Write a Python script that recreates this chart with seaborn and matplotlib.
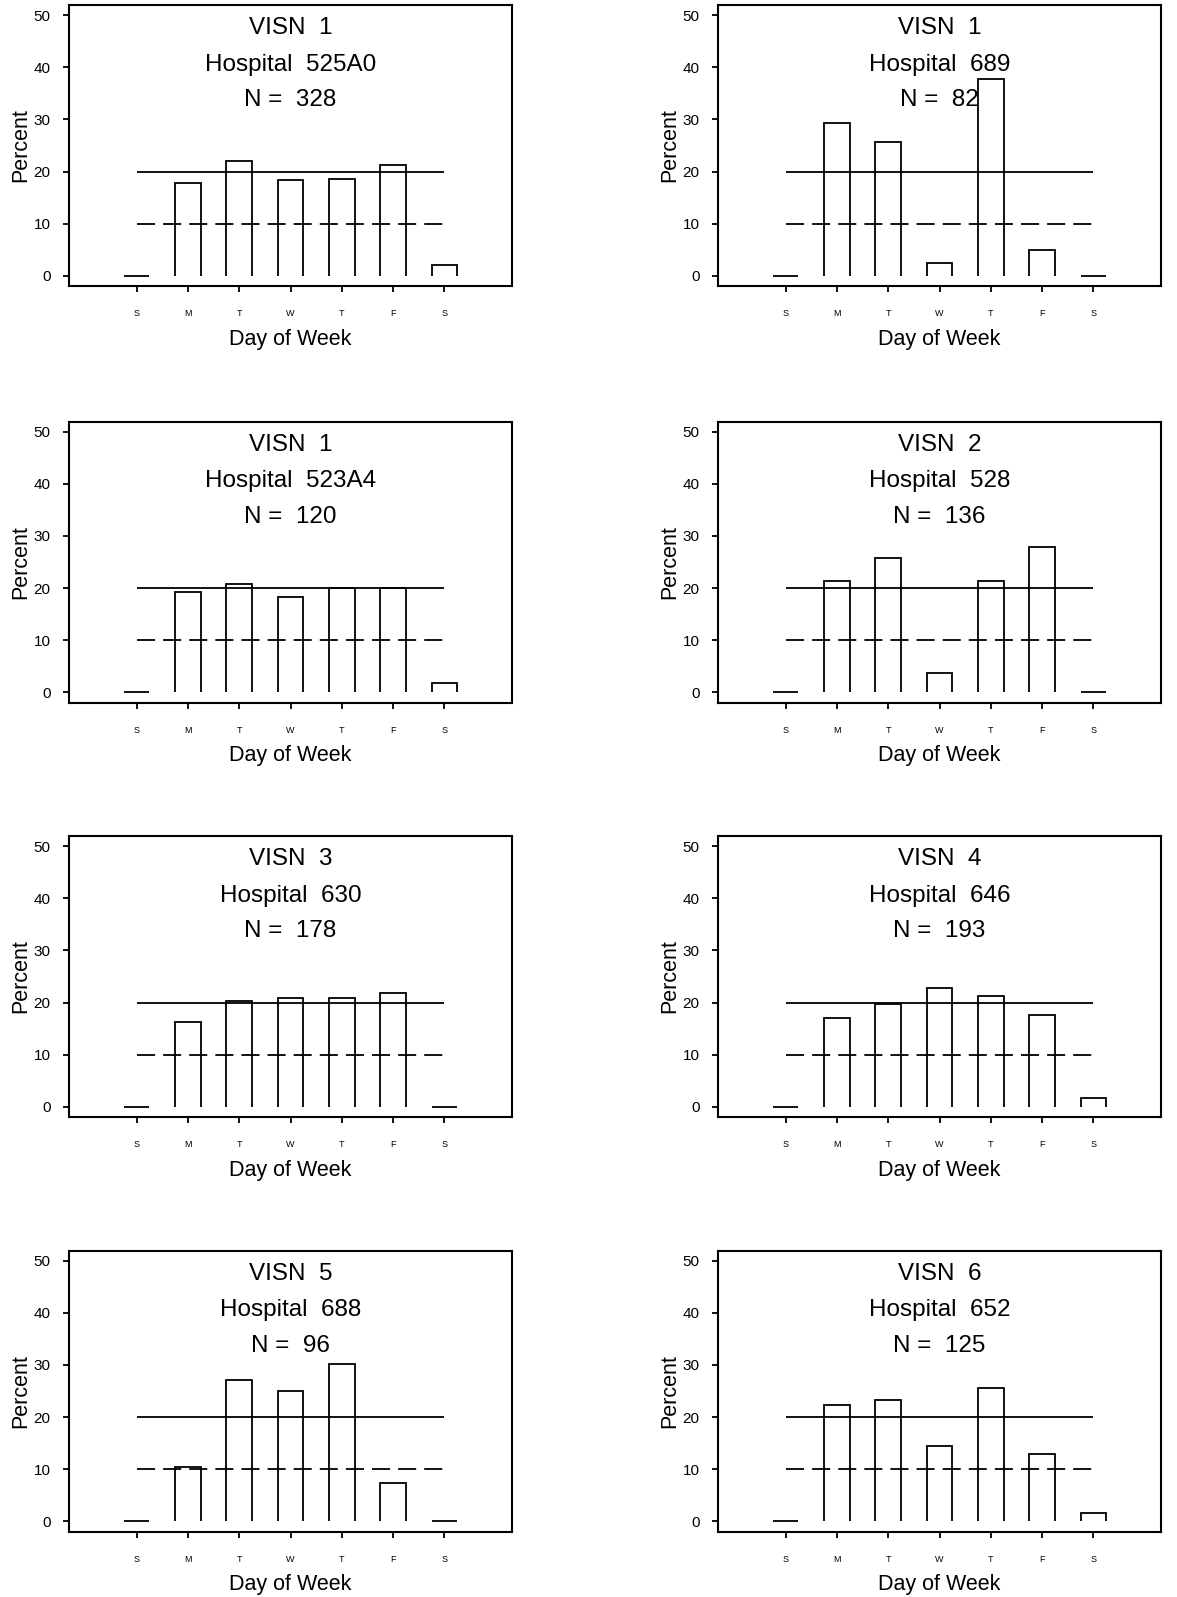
import matplotlib
matplotlib.use("Agg")
import matplotlib.pyplot as plt
from matplotlib.patches import Polygon
import seaborn as sns
import pandas as pd

# ---------------- data ----------------
days = ["Sunday", "Monday", "Tuesday", "Wednesday", "Thursday", "Friday", "Saturday"]
day_labels = ["S", "M", "T", "W", "T", "F", "S"]

visn = ["1", "1", "1", "2", "3", "4", "5", "6"]
hospitals = ["525A0", "689", "523A4", "528", "630", "646", "688", "652"]
n_values = [328, 82, 120, 136, 178, 193, 96, 125]

pct_525A0 = [0.0, 17.7, 22.0, 18.3, 18.6, 21.3, 2.1]
pct_689 = [0.0, 29.3, 25.6, 2.4, 37.8, 4.9, 0.0]
pct_523A4 = [0.0, 19.2, 20.8, 18.3, 20.0, 20.0, 1.7]
pct_528 = [0.0, 21.3, 25.7, 3.7, 21.3, 27.9, 0.0]
pct_630 = [0.0, 16.3, 20.2, 20.8, 20.8, 21.9, 0.0]
pct_646 = [0.0, 17.1, 19.7, 22.8, 21.2, 17.6, 1.6]
pct_688 = [0.0, 10.4, 27.1, 25.0, 30.2, 7.3, 0.0]
pct_652 = [0.0, 22.4, 23.2, 14.4, 25.6, 12.8, 1.6]

ref_solid = 20
ref_dashed = 10
y_ticks = [0, 10, 20, 30, 40, 50]

panel_pcts = [pct_525A0, pct_689, pct_523A4, pct_528,
              pct_630, pct_646, pct_688, pct_652]

# ---------------- style ----------------
sns.set_style("ticks", {"axes.edgecolor": "black", "xtick.color": "black",
                        "ytick.color": "black", "text.color": "black",
                        "axes.labelcolor": "black"})
plt.rcParams["font.family"] = ["Liberation Sans", "DejaVu Sans"]
plt.rcParams["lines.scale_dashes"] = False

W, H = 1177, 1597
fig = plt.figure(figsize=(W / 100, H / 100), dpi=100)
fig.patch.set_facecolor("white")

col_left = [69, 718]
col_width = 443
row_top = [5, 421.5, 836, 1250.5]
row_height = 281
text_base = [46.4, 39.4, 32.5]
LW = 1.3

for i, pcts in enumerate(panel_pcts):
    r, c = divmod(i, 2)
    l, t = col_left[c], row_top[r]
    ax = fig.add_axes([l / W, 1 - (t + row_height) / H, col_width / W, row_height / H])
    df = pd.DataFrame({"day": days, "pct": pcts})
    sns.barplot(data=df, x="day", y="pct", order=days, fill=False, color="black",
                width=0.5, linewidth=LW, errorbar=None, ax=ax)

    # redraw each seaborn bar as an outline open at the bottom
    for p in list(ax.patches):
        x0, y0 = p.get_x(), p.get_y()
        w, h = p.get_width(), p.get_height()
        p.remove()
        ax.add_patch(Polygon([(x0, y0), (x0, y0 + h), (x0 + w, y0 + h), (x0 + w, y0)],
                             closed=False, fill=False, edgecolor="black",
                             linewidth=LW, joinstyle="miter", capstyle="butt"))

    ax.hlines(ref_solid, 0, len(days) - 1, colors="black", linewidth=LW)
    ax.hlines(ref_dashed, 0, len(days) - 1, colors="black", linewidth=LW,
              linestyles=[(0, (13, 5.8))])

    ax.set_xlim(-1.32, len(days) - 1 + 1.32)
    ax.set_ylim(-2, 52)
    ax.set_yticks(y_ticks)
    ax.set_xticks(range(len(days)))
    ax.set_xticklabels(day_labels)

    ax.tick_params(axis="both", direction="out", length=4.3, width=1.3, color="black")
    ax.tick_params(axis="y", labelsize=11, pad=9)
    ax.tick_params(axis="x", labelsize=6.5, pad=12.5)
    for s in ax.spines.values():
        s.set_visible(True)
        s.set_linewidth(1.5)
        s.set_color("black")

    ax.set_xlabel("Day of Week", fontsize=15.5)
    ax.set_ylabel("Percent", fontsize=15.5)
    ax.xaxis.set_label_coords(0.5, -58.7 / row_height)
    ax.xaxis.label.set_va("baseline")
    ax.yaxis.set_label_coords(-42.5 / col_width, 0.5)
    ax.yaxis.label.set_va("baseline")

    tr = ax.get_yaxis_transform()
    lines = [f"VISN  {visn[i]}", f"Hospital  {hospitals[i]}", f"N =  {n_values[i]}"]
    for txt, yb in zip(lines, text_base):
        ax.text(0.5, yb, txt, transform=tr, ha="center", va="baseline", fontsize=17.5)

fig.savefig("out.png", dpi=100, facecolor="white")
